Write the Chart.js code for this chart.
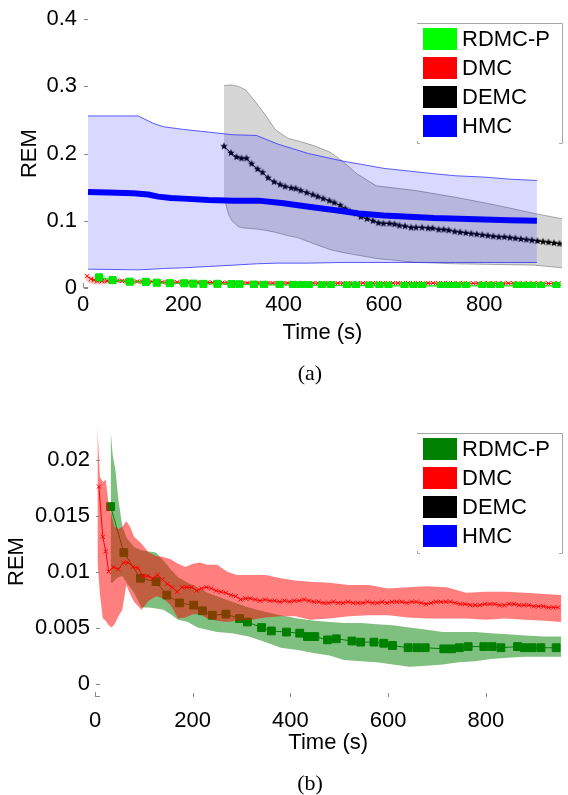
<!DOCTYPE html>
<html>
<head>
<meta charset="utf-8">
<script src="https://cdn.jsdelivr.net/npm/chart.js@4"></script>
<style>
  body { margin: 0; background: #fff; }
  #wrap { position: relative; width: 568px; height: 795px; }
  canvas { position: absolute; left: 0; }
  .cap { position: absolute; width: 60px; text-align: center; line-height: 22px;
         font: 22px "Liberation Serif", "Times New Roman", serif; color: #000; }
</style>
</head>
<body>
<div id="wrap">
  <canvas id="chartA" width="568" height="392" style="top:0"></canvas>
  <canvas id="chartB" width="568" height="403" style="top:392px"></canvas>
  <div class="cap" style="left:280px;top:360px">(a)</div>
  <div class="cap" style="left:280px;top:770px">(b)</div>
</div>
<script>
// ─── values (time in s, REM) ───────────────────────────────────────────────
const xTicks = [0, 200, 400, 600, 800];
const topYTicks = [0, 0.1, 0.2, 0.3, 0.4];
const botYTicks = [0, 0.005, 0.01, 0.015, 0.02];
const legendNames = ['RDMC-P', 'DMC', 'DEMC', 'HMC'];

// RDMC-P: mean (square markers) and shaded band
const rdmcTime = [32, 59, 93, 125, 147, 173, 202, 220, 240, 268, 296, 312, 341, 361, 392, 419, 435, 450, 476, 494,
  526, 544, 571, 591, 609, 641, 659, 676, 714, 730, 746, 764, 796, 813, 831, 865, 879, 895, 913, 944];
const rdmcMean = [0.0158, 0.0117, 0.0094, 0.0091, 0.0079, 0.0072, 0.0070, 0.0065, 0.0061, 0.0062, 0.0058, 0.0055,
  0.0050, 0.0047, 0.0046, 0.0045, 0.0042, 0.0042, 0.0039, 0.0040, 0.0038, 0.0037, 0.0037, 0.0036, 0.0034, 0.0032,
  0.0032, 0.0032, 0.0031, 0.0031, 0.0032, 0.0033, 0.0033, 0.0033, 0.0032, 0.0033, 0.0032, 0.0032, 0.0032, 0.0032];
const rdmcBandTime = [32, 36, 42, 48, 56, 65, 80, 95, 110, 125, 140, 155, 170, 190, 210, 230, 250, 280, 315, 350,
  380, 415, 450, 480, 510, 545, 577, 610, 643, 680, 712, 745, 778, 810, 845, 880, 920, 955];
const rdmcUpper = [0.0226, 0.0205, 0.0190, 0.0164, 0.0140, 0.0130, 0.0122, 0.0119, 0.0118, 0.0117, 0.0110, 0.0102,
  0.0095, 0.0090, 0.0086, 0.0081, 0.0078, 0.0073, 0.0068, 0.0064, 0.0061, 0.0058, 0.0056, 0.0055, 0.0054, 0.0054,
  0.0053, 0.0052, 0.0050, 0.0048, 0.0046, 0.0046, 0.0046, 0.0045, 0.0044, 0.0043, 0.0042, 0.0042];
const rdmcLower = [0.0090, 0.0090, 0.0093, 0.0095, 0.0096, 0.0090, 0.0081, 0.0068, 0.0068, 0.0067, 0.0066, 0.0062,
  0.0057, 0.0055, 0.0050, 0.0048, 0.0046, 0.0045, 0.0042, 0.0037, 0.0032, 0.0030, 0.0027, 0.0025, 0.0021, 0.0020,
  0.0019, 0.0017, 0.0015, 0.0016, 0.0017, 0.0019, 0.0020, 0.0022, 0.0023, 0.0024, 0.0024, 0.0024];

// DMC: mean (x markers) and shaded band
const dmcTime = [8, 16, 22, 28, 38, 48, 58, 68, 78, 88, 98, 108, 118, 128, 138, 148, 158, 168, 178, 188,
  198, 208, 218, 228, 238, 248, 258, 268, 278, 288, 298, 308, 318, 328, 338, 348, 358, 368, 378, 388,
  398, 408, 418, 428, 438, 448, 458, 468, 478, 488, 498, 508, 518, 528, 538, 548, 558, 568, 578, 588,
  598, 608, 618, 628, 638, 648, 658, 668, 678, 688, 698, 708, 718, 728, 738, 748, 758, 768, 778, 788,
  798, 808, 818, 828, 838, 848, 858, 868, 878, 888, 898, 908, 918, 928, 938, 948];
const dmcMean = [0.0176, 0.0131, 0.0118, 0.0100, 0.0104, 0.0102, 0.0108, 0.0108, 0.0104, 0.0103,
  0.0096, 0.0096, 0.0094, 0.0097, 0.0093, 0.0089, 0.0086, 0.0082, 0.0086, 0.0086,
  0.0086, 0.0083, 0.0085, 0.0086, 0.0085, 0.0083, 0.0082, 0.0081, 0.0079, 0.0078,
  0.0075, 0.0076, 0.0076, 0.0075, 0.0074, 0.0075, 0.0074, 0.0074, 0.0073, 0.0074,
  0.0073, 0.0074, 0.0074, 0.0075, 0.0074, 0.0073, 0.0073, 0.0072, 0.0072, 0.0073,
  0.0072, 0.0072, 0.0073, 0.0072, 0.0072, 0.0072, 0.0073, 0.0072, 0.0072, 0.0073,
  0.0072, 0.0073, 0.0073, 0.0073, 0.0072, 0.0073, 0.0073, 0.0072, 0.0071, 0.0072,
  0.0073, 0.0073, 0.0073, 0.0073, 0.0072, 0.0071, 0.0071, 0.0070, 0.0070, 0.0070,
  0.0071, 0.0071, 0.0071, 0.0070, 0.0070, 0.0071, 0.0071, 0.0070, 0.0070, 0.0070,
  0.0069, 0.0069, 0.0069, 0.0068, 0.0068, 0.0068];
const dmcBandTime = [5, 10, 16, 22, 28, 34, 40, 48, 56, 64, 72, 80, 95, 110, 125, 140, 155, 170, 185, 200,
  215, 230, 250, 270, 290, 320, 350, 380, 410, 440, 480, 520, 560, 600, 640, 680, 720, 760, 800, 840, 880, 920, 955];
const dmcUpper = [0.0230, 0.0185, 0.0180, 0.0182, 0.0160, 0.0150, 0.0140, 0.0138, 0.0140, 0.0145,
  0.0140, 0.0131, 0.0125, 0.0117, 0.0114, 0.0113, 0.0111, 0.0107, 0.0104, 0.0107,
  0.0108, 0.0106, 0.0106, 0.0100, 0.0097, 0.0097, 0.0097, 0.0094, 0.0092, 0.0091,
  0.0090, 0.0088, 0.0088, 0.0085, 0.0086, 0.0087, 0.0086, 0.0081, 0.0082, 0.0082, 0.0081, 0.0080, 0.0079];
const dmcLower = [0.0110, 0.0080, 0.0058, 0.0056, 0.0052, 0.0050, 0.0053, 0.0060, 0.0066, 0.0088,
  0.0080, 0.0073, 0.0066, 0.0074, 0.0078, 0.0076, 0.0070, 0.0058, 0.0059, 0.0062,
  0.0062, 0.0058, 0.0056, 0.0055, 0.0056, 0.0057, 0.0059, 0.0060, 0.0060, 0.0057,
  0.0058, 0.0060, 0.0061, 0.0061, 0.0059, 0.0058, 0.0058, 0.0058, 0.0057, 0.0058, 0.0057, 0.0056, 0.0055];

// DEMC: mean (star markers) and grey band
const demcTime = [281, 295, 306, 316, 326, 336, 348, 358, 369, 381, 393, 403, 415, 424, 434, 446, 458, 468, 479, 491,
  501, 513, 523, 532, 544, 554, 566, 578, 589, 599, 611, 621, 631, 642, 654, 664, 676, 688, 697, 709,
  719, 729, 741, 752, 763, 774, 785, 796, 807, 818, 829, 840, 851, 862, 873, 884, 895, 906, 917, 928, 939, 950];
const demcMean = [0.211, 0.201, 0.195, 0.193, 0.193, 0.185, 0.177, 0.172, 0.164, 0.158,
  0.154, 0.151, 0.149, 0.148, 0.145, 0.142, 0.139, 0.136, 0.133, 0.130,
  0.127, 0.123, 0.118, 0.114, 0.111, 0.106, 0.103, 0.100, 0.097, 0.096,
  0.096, 0.095, 0.093, 0.092, 0.090, 0.090, 0.090, 0.089, 0.089, 0.087,
  0.087, 0.086, 0.084, 0.083, 0.082, 0.081, 0.080, 0.079, 0.078, 0.077,
  0.076, 0.076, 0.075, 0.074, 0.073, 0.072, 0.071, 0.070, 0.069, 0.068, 0.067, 0.066];
const demcBandTime = [281, 290, 297, 310, 324, 343, 363, 383, 408, 428, 460, 493, 517, 546, 585, 664, 743, 820, 900, 955];
const demcUpper = [0.301, 0.302, 0.302, 0.300, 0.295, 0.278, 0.258, 0.236, 0.223, 0.219,
  0.212, 0.202, 0.189, 0.170, 0.152, 0.145, 0.135, 0.124, 0.111, 0.103];
const demcLower = [0.135, 0.110, 0.100, 0.091, 0.089, 0.088, 0.086, 0.083, 0.078, 0.075,
  0.066, 0.057, 0.053, 0.049, 0.044, 0.038, 0.036, 0.035, 0.034, 0.030];

// HMC: mean (thick line) and blue band
const hmcTime = [10, 50, 100, 130, 150, 175, 200, 250, 300, 350, 400, 450, 500, 550, 600, 650, 700, 750, 800, 850, 905];
const hmcMean = [0.143, 0.142, 0.141, 0.139, 0.136, 0.134, 0.133, 0.131, 0.130, 0.130, 0.126,
  0.121, 0.116, 0.111, 0.108, 0.106, 0.104, 0.103, 0.102, 0.101, 0.100];
const hmcBandTime = [10, 110, 140, 160, 200, 250, 300, 346, 389, 450, 517, 600, 700, 743, 800, 850, 905];
const hmcUpper = [0.256, 0.256, 0.245, 0.240, 0.236, 0.232, 0.228, 0.227, 0.214, 0.200, 0.189,
  0.178, 0.170, 0.167, 0.165, 0.162, 0.160];
const hmcLower = [0.028, 0.027, 0.028, 0.029, 0.030, 0.032, 0.034, 0.036, 0.037, 0.037, 0.038,
  0.038, 0.038, 0.038, 0.038, 0.038, 0.038];

// ─── helpers ───────────────────────────────────────────────────────────────
Chart.defaults.font.family = '"Liberation Sans", Arial, sans-serif';
Chart.defaults.font.size = 22;
Chart.defaults.color = '#000';

const pts = (t, v) => t.map((x, i) => ({ x, y: v[i] }));

// small filled five-point star used as the DEMC marker
function starMarker(r) {
  const c = document.createElement('canvas');
  c.width = c.height = 2 * r + 2;
  const g = c.getContext('2d');
  g.beginPath();
  for (let i = 0; i < 10; i++) {
    const a = -Math.PI / 2 + i * Math.PI / 5;
    const rr = i % 2 ? r * 0.42 : r;
    g.lineTo(r + 1 + rr * Math.cos(a), r + 1 + rr * Math.sin(a));
  }
  g.closePath();
  g.fillStyle = '#000';
  g.fill();
  return c;
}

function meanLine(t, v, color, order, extra) {
  return Object.assign({
    data: pts(t, v), order, borderColor: color, backgroundColor: color,
    borderWidth: 1, pointRadius: 0, fill: false
  }, extra);
}

// two datasets: upper (filled down to the next one) and lower
function band(t, up, lo, fillColor, edgeColor, order) {
  const edge = edgeColor ? 1 : 0;
  return [
    { data: pts(t, up), order, fill: '+1', backgroundColor: fillColor,
      borderColor: edgeColor || 'rgba(0,0,0,0)', borderWidth: edge, pointRadius: 0 },
    { data: pts(t, lo), order, fill: false,
      borderColor: edgeColor || 'rgba(0,0,0,0)', borderWidth: edge, pointRadius: 0 }
  ];
}

// light inward tick marks and the little axis corner
const innerTicks = {
  id: 'innerTicks',
  afterDatasetsDraw(chart, args, o) {
    const { ctx, chartArea: a, scales: { x, y } } = chart;
    ctx.save();
    ctx.strokeStyle = '#8a8a8a';
    ctx.lineWidth = 1;
    ctx.beginPath();
    y.ticks.forEach(t => {
      const py = Math.round(y.getPixelForValue(t.value)) + 0.5;
      ctx.moveTo(a.left + 1, py); ctx.lineTo(a.left + 5, py);
    });
    if (o.xMarks) {
      x.ticks.forEach(t => {
        const px = Math.round(x.getPixelForValue(t.value)) + 0.5;
        ctx.moveTo(px, a.bottom); ctx.lineTo(px, a.bottom - 4);
      });
    }
    ctx.moveTo(a.left + 0.5, a.bottom - 5);
    ctx.lineTo(a.left + 0.5, a.bottom - 0.5);
    ctx.lineTo(a.left + 5, a.bottom - 0.5);
    ctx.stroke();
    ctx.restore();
  }
};

// boxed legend in the upper-right corner
const boxLegend = {
  id: 'boxLegend',
  afterDraw(chart, args, o) {
    const ctx = chart.ctx;
    const x0 = 417, y0 = o.top, w = 145, h = 120;
    ctx.save();
    ctx.fillStyle = '#fff';
    ctx.fillRect(x0, y0, w, h);
    ctx.strokeStyle = '#a6a6a6';
    ctx.lineWidth = 1;
    ctx.beginPath();
    ctx.moveTo(x0, y0 + 0.5); ctx.lineTo(x0 + w + 0.5, y0 + 0.5); ctx.lineTo(x0 + w + 0.5, y0 + h);
    ctx.moveTo(x0 + 0.5, y0 + h - 2); ctx.lineTo(x0 + 0.5, y0 + h + 0.5); ctx.lineTo(x0 + 3, y0 + h + 0.5);
    ctx.moveTo(x0 + w - 3, y0 + h + 0.5); ctx.lineTo(x0 + w + 0.5, y0 + h + 0.5);
    ctx.stroke();
    ctx.font = '22px "Liberation Sans", Arial, sans-serif';
    ctx.textBaseline = 'middle';
    o.colors.forEach((c, i) => {
      const cy = y0 + 16 + i * 29;
      ctx.fillStyle = c;
      ctx.fillRect(x0 + 6, cy - 11, 34, 22);
      ctx.fillStyle = '#000';
      ctx.fillText(legendNames[i], x0 + 45, cy + 1);
    });
    ctx.restore();
  }
};

function options(c) {
  return {
    responsive: false,
    animation: false,
    devicePixelRatio: 1,
    layout: { padding: { top: c.padTop, right: 0, bottom: 0, left: 0 } },
    elements: { line: { tension: 0 } },
    plugins: {
      legend: { display: false },
      tooltip: { enabled: false },
      innerTicks: { xMarks: c.xMarks },
      boxLegend: { top: c.legendTop, colors: c.legendColors }
    },
    scales: {
      x: {
        type: 'linear', min: 0, max: 955,
        grid: { display: false, drawTicks: false }, border: { display: false },
        afterBuildTicks: s => { s.ticks = xTicks.map(v => ({ value: v })); },
        afterFit: s => { s.height = c.xHeight; },
        ticks: { padding: c.xPad, maxRotation: 0, autoSkip: false },
        title: { display: true, text: 'Time (s)', padding: { top: 0, bottom: c.timePad } }
      },
      y: {
        min: c.yMin, max: c.yMax,
        grid: { display: false, drawTicks: false }, border: { display: false },
        afterBuildTicks: s => { s.ticks = c.yTicks.map(v => ({ value: v })); },
        afterFit: s => { s.width = c.yWidth; },
        ticks: { padding: c.yPad, callback: v => String(+v.toFixed(4)) },
        title: { display: true, text: 'REM', padding: { top: c.remPad, bottom: 0 } }
      }
    }
  };
}

// ─── (a) all four methods ──────────────────────────────────────────────────
const lime = '#00e600';
new Chart(document.getElementById('chartA'), {
  type: 'line',
  data: {
    datasets: [
      meanLine(hmcTime, hmcMean, '#0000ff', 0, { borderWidth: 6 }),
      ...band(hmcBandTime, hmcUpper, hmcLower, 'rgba(0,0,255,0.15)', 'rgba(40,40,255,0.75)', 1),
      meanLine(demcTime, demcMean, '#000000', 2, { pointStyle: starMarker(4), pointRadius: 4 }),
      ...band(demcBandTime, demcUpper, demcLower, 'rgba(0,0,0,0.16)', 'rgba(0,0,0,0.3)', 3),
      meanLine(rdmcTime, rdmcMean, lime, 4, { pointStyle: 'rect', pointRadius: 5 }),
      meanLine(dmcTime, dmcMean, '#ff0000', 5, { pointStyle: 'crossRot', pointRadius: 3, pointBorderWidth: 1 }),
      ...band(dmcBandTime, dmcUpper, dmcLower, 'rgba(255,0,0,0.22)', null, 6),
      ...band(rdmcBandTime, rdmcUpper, rdmcLower, 'rgba(0,255,0,0.25)', null, 7)
    ]
  },
  options: options({
    padTop: 17, xHeight: 104, yWidth: 83, xPad: 4, yPad: 6, timePad: 46, remPad: 17,
    yMin: 0, yMax: 0.4, yTicks: topYTicks, xMarks: false,
    legendTop: 23, legendColors: ['#00ff00', '#ff0000', '#000000', '#0000ff']
  }),
  plugins: [innerTicks, boxLegend]
});

// ─── (b) zoom on RDMC-P and DMC ────────────────────────────────────────────
new Chart(document.getElementById('chartB'), {
  type: 'line',
  data: {
    datasets: [
      meanLine(dmcTime, dmcMean, '#ff0000', 0, { pointStyle: 'crossRot', pointRadius: 3, pointBorderWidth: 1 }),
      ...band(dmcBandTime, dmcUpper, dmcLower, 'rgba(255,0,0,0.5)', null, 1),
      meanLine(rdmcTime, rdmcMean, '#008000', 2, { pointStyle: 'rect', pointRadius: 5.5 }),
      ...band(rdmcBandTime, rdmcUpper, rdmcLower, 'rgba(0,128,0,0.5)', null, 3)
    ]
  },
  options: options({
    padTop: 34, xHeight: 98, yWidth: 95, xPad: 11, yPad: 5, timePad: 39, remPad: 4,
    yMin: -0.0012, yMax: 0.023, yTicks: botYTicks, xMarks: true,
    legendTop: 41, legendColors: ['#008000', '#ff0000', '#000000', '#0000ff']
  }),
  plugins: [innerTicks, boxLegend]
});
</script>
</body>
</html>
